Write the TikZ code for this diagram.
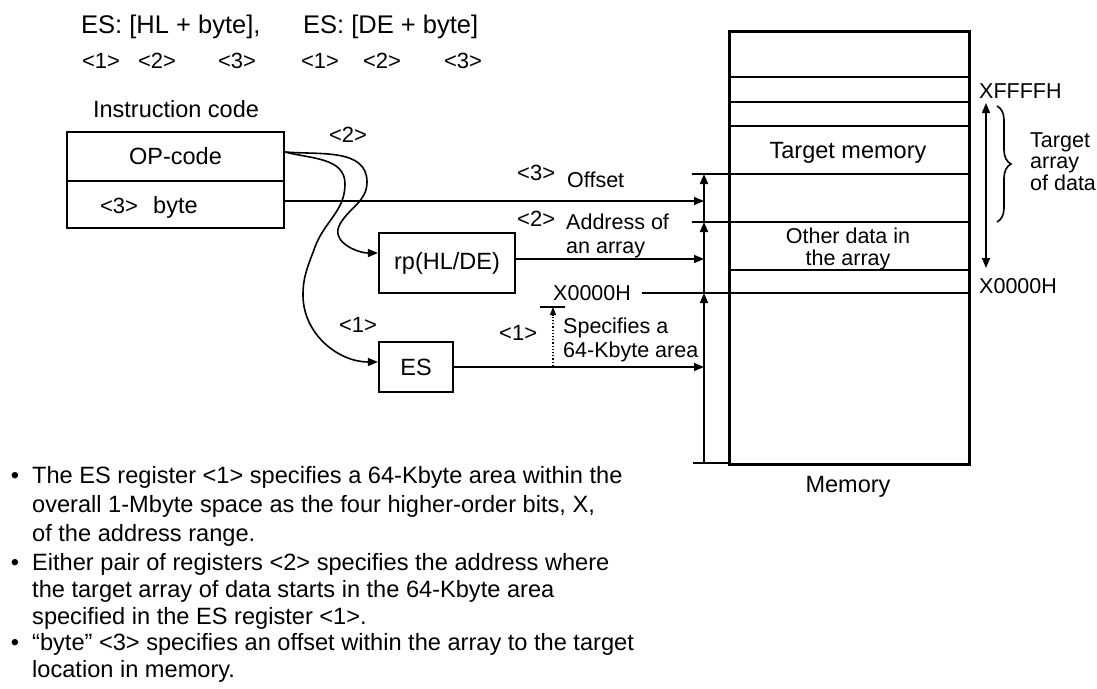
\documentclass[tikz,border=0pt]{standalone}
\usepackage{fontspec}
\setmainfont{Liberation Sans}
\usetikzlibrary{arrows.meta,calc,decorations.pathreplacing}
\begin{document}
\begin{tikzpicture}[x=1pt,y=-1pt,
  cell/.style={draw,line width=2.2pt,inner sep=0pt,minimum width=217pt,font=\fontsize{23.5}{28}\selectfont},
  regbox/.style={draw,line width=2.2pt,inner sep=0pt,font=\fontsize{23.5}{28}\selectfont},
  lab/.style={inner sep=0pt,anchor=base west,font=\fontsize{21.5}{25}\selectfont},
  big/.style={inner sep=0pt,anchor=base west,font=\fontsize{23.5}{28}\selectfont},
  head/.style={inner sep=0pt,anchor=base west,font=\fontsize{25.5}{30}\selectfont},
  num/.style={inner sep=0pt,anchor=base,font=\fontsize{22}{26}\selectfont},
  txt/.style={inner sep=0pt,anchor=base west,font=\fontsize{23.6}{28}\selectfont},
  arr/.style={line width=1.6pt,-{Triangle[length=10pt,width=8pt]}},
  thinarr/.style={line width=1.3pt,-{Triangle[length=10pt,width=8pt]}},
  memline/.style={line width=1.8pt},
  tick/.style={line width=1.3pt}
]
\useasboundingbox (0,0) rectangle (1097,688);

% header
\node[head] (h1) at (81,33) {ES: [HL + byte],};
\node[head] (h2) at (303,33) {ES: [DE + byte]};
\node[num] (n1) at (101,68) {<1>};
\node[num] (n2) at (157,68) {<2>};
\node[num] (n3) at (237,68) {<3>};
\node[num] (n4) at (320,68) {<1>};
\node[num] (n5) at (382,68) {<2>};
\node[num] (n6) at (463,68) {<3>};

% instruction code
\node[big,anchor=base] (ic) at (176,117) {Instruction code};
\node[cell,minimum height=49pt] (op) at (175.5,156.5) {OP-code};
\node[cell,minimum height=47pt] (bt) at (175.5,204.5) {};
\node[num] (b3) at (119,213) {<3>};
\node[big] (bb) at (153,213) {byte};

% registers
\node[regbox,minimum width=136pt,minimum height=60pt] (rp) at (447,263) {rp(HL/DE)};
\node[regbox,minimum width=74pt,minimum height=50pt] (es) at (416,367) {ES};

% memory
\node[draw,line width=3pt,inner sep=0pt,minimum width=240pt,minimum height=433pt,anchor=north west] (mem) at (728,30) {};
\foreach \yy in {77,102,126,174,222,270,293}
  \draw[memline] (mem.west |- 0,\yy) -- (mem.east |- 0,\yy);
\node[big,anchor=base] (tm) at (848,158) {Target memory};
\node[lab,anchor=base] (od1) at (848,243) {Other data in};
\node[lab,anchor=base] (od2) at (848,265) {the array};
\node[big,anchor=base] (memlab) at (848,492) {Memory};

% right-side labels
\node[lab] (xf) at (979,98) {XFFFFH};
\node[lab] (x0r) at (979,293) {X0000H};
\coordinate (da) at (986,103);
\coordinate (db) at (986,268);
\draw[line width=1.6pt,{Triangle[length=10pt,width=8pt]}-{Triangle[length=10pt,width=8pt]}] (da) -- (db);
\coordinate (ba) at (997,106);
\coordinate (bb2) at (997,222);
\draw[line width=1.6pt,decorate,decoration={brace,amplitude=14pt}] (ba) -- (bb2);
\node[lab] (ta1) at (1030,147) {Target};
\node[lab] (ta2) at (1030,168) {array};
\node[lab] (ta3) at (1030,190) {of data};

% left scale
\coordinate (v0) at (704,463);
\coordinate (v1) at (704,293);
\coordinate (v2) at (704,222);
\coordinate (v3) at (704,174);
\draw[tick] (693,463) -- (mem.west |- v0);
\draw[tick] (642,293) -- (mem.west |- v1);
\draw[tick] (692,222) -- (mem.west |- v2);
\draw[tick] (692,174) -- (mem.west |- v3);
\draw[arr] (v0) -- (v1);
\draw[arr] (v1) -- (v2);
\draw[arr] (v2) -- (v3);

% horizontal arrows
\coordinate (bto) at ($(bt.east)+(0,-3.5)$);
\draw[thinarr] (bto) -- (bto -| v0);
\coordinate (rpo) at ($(rp.east)+(0,-4)$);
\draw[arr] (rpo) -- (rpo -| v0);
\draw[arr] (es.east) -- (es.east -| v0);

% annotations
\node[num,anchor=base west] (a3) at (517,180) {<3>};
\node[lab] (off) at (567,187) {Offset};
\node[num,anchor=base west] (a2) at (517,226) {<2>};
\node[lab] (ad1) at (566,229) {Address of};
\node[lab] (ad2) at (566,253) {an array};
\node[lab] (x0l) at (553,300) {X0000H};
\node[num,anchor=base west] (a1) at (499,340) {<1>};
\node[lab] (sp1) at (563,333) {Specifies a};
\node[lab] (sp2) at (563,357) {64-Kbyte area};
\coordinate (dA) at (553,366);
\coordinate (dB) at (553,307);
\draw[line width=1.2pt,dotted,-{Triangle[length=8pt,width=6pt]}] (dA) -- (dB);
\draw[tick] (540,307) -- (565,307);

% curves
\node[num] (c2) at (348,142) {<2>};
\node[num] (c1) at (358,332) {<1>};
\coordinate (ops) at ($(op.east)+(0,-4.5)$);
\coordinate (rpi) at ($(rp.west)+(0,-10)$);
\coordinate (esi) at ($(es.west)+(0,-5)$);
\draw[arr] (ops) to[out=-5,in=90] (367,182) to[out=-90,in=60] (340,224) to[out=240,in=180,looseness=1.1] (rpi);
\draw[arr] (ops) to[out=-15,in=90] (345,184) to[out=-90,in=70] (315,247) to[out=250,in=90] (303,295) to[out=-90,in=180] (esi);

% bullet text
\foreach \yy in {483,570,650} \node[txt,anchor=base] at (15,\yy) {•};
\node[txt] (l1) at (32,483) {The ES register <1> specifies a 64-Kbyte area within the};
\node[txt] (l2) at (32,512) {overall 1-Mbyte space as the four higher-order bits, X,};
\node[txt] (l3) at (32,541) {of the address range.};
\node[txt] (l4) at (32,570) {Either pair of registers <2> specifies the address where};
\node[txt] (l5) at (32,597) {the target array of data starts in the 64-Kbyte area};
\node[txt] (l6) at (32,624) {specified in the ES register <1>.};
\node[txt] (l7) at (32,650) {“byte” <3> specifies an offset within the array to the target};
\node[txt] (l8) at (32,677) {location in memory.};
\end{tikzpicture}
\end{document}
